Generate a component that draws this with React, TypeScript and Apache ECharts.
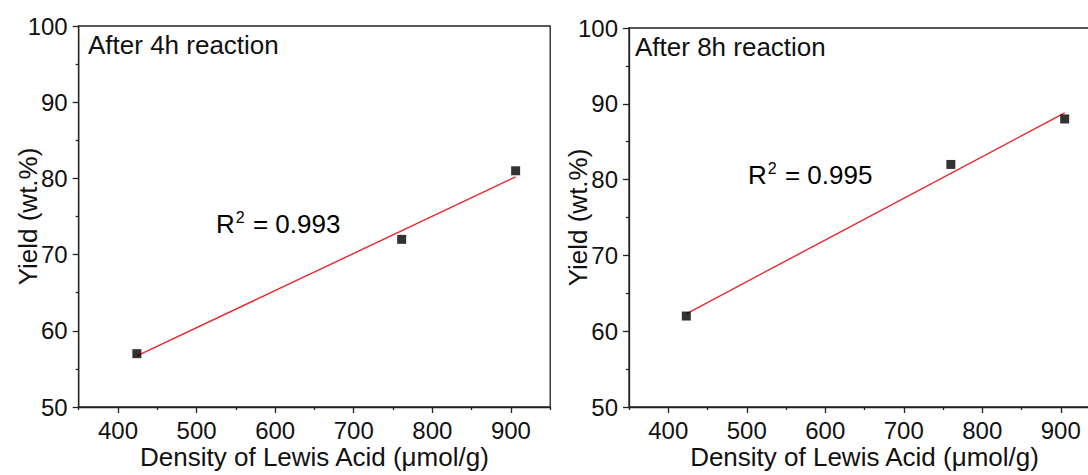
import React, { useEffect, useRef } from "react";
import * as echarts from "echarts";

// ---- data ----
const panelTitles = ["After 4h reaction", "After 8h reaction"];
const r2Labels = ["0.993", "0.995"];
const points4h: [number, number][] = [
  [424, 57],
  [761, 72],
  [906, 81],
];
const points8h: [number, number][] = [
  [423, 62],
  [760, 82],
  [905, 88],
];
const fit4h: [number, number][] = [
  [424, 56.7],
  [906, 80.2],
];
const fit8h: [number, number][] = [
  [423, 62.3],
  [905, 88.8],
];
const xMajorTicks = [400, 500, 600, 700, 800, 900];
const xMinorTicks = [350, 450, 550, 650, 750, 850, 950];
const xRange = [350, 950];
const yRange = [50, 100];
const yInterval = 10;
const xTitle = "Density of Lewis Acid (μmol/g)";
const yTitle = "Yield (wt.%)";

const FONT = "Liberation Sans, Arial, sans-serif";
const INK = "#111";
const AXIS = "#222";
const RED = "#e8262a";
const TICK_FS = 24;
const TITLE_FS = 26;

export default function App() {
  const ref = useRef<HTMLDivElement>(null);
  useEffect(() => {
    if (!ref.current) return;
    const chart = echarts.init(ref.current, undefined, { renderer: "svg" });
    const grids = [
      { left: 78.7, top: 26, width: 471.5, height: 381 },
      { left: 629, top: 28, width: 471, height: 379 },
    ];
    const xAxes: any[] = [];
    const yAxes: any[] = [];
    grids.forEach((_, i) => {
      xAxes.push({
        type: "value",
        gridIndex: i,
        min: xRange[0],
        max: xRange[1],
        position: "bottom",
        name: xTitle,
        nameLocation: "middle",
        nameGap: 37,
        nameMoveOverlap: false,
        nameTextStyle: { fontFamily: FONT, fontSize: TITLE_FS, color: INK },
        axisLine: { show: true, lineStyle: { color: AXIS, width: 1.3 } },
        axisTick: {
          show: true,
          length: 6,
          customValues: xMajorTicks,
          lineStyle: { color: AXIS, width: 1.3 },
        },
        axisLabel: {
          customValues: xMajorTicks,
          fontFamily: FONT,
          fontSize: TICK_FS,
          color: INK,
          margin: 11,
        },
        splitLine: { show: false },
      });
      xAxes.push({
        type: "value",
        gridIndex: i,
        min: xRange[0],
        max: xRange[1],
        position: "bottom",
        axisLine: { show: false },
        axisTick: {
          show: true,
          length: 3,
          customValues: xMinorTicks,
          lineStyle: { color: AXIS, width: 1.3 },
        },
        axisLabel: { show: false },
        splitLine: { show: false },
      });
      yAxes.push({
        type: "value",
        gridIndex: i,
        min: yRange[0],
        max: yRange[1],
        interval: yInterval,
        name: yTitle,
        nameLocation: "middle",
        nameRotate: 90,
        nameGap: 38,
        nameMoveOverlap: false,
        nameTextStyle: { fontFamily: FONT, fontSize: TITLE_FS, color: INK },
        axisLine: { show: true, lineStyle: { color: AXIS, width: 1.3 } },
        axisTick: { show: true, length: 6, lineStyle: { color: AXIS, width: 1.3 } },
        minorTick: { show: true, splitNumber: 2, length: 3, lineStyle: { color: AXIS, width: 1.3 } },
        axisLabel: { fontFamily: FONT, fontSize: TICK_FS, color: INK, margin: 11 },
        splitLine: { show: false },
        minorSplitLine: { show: false },
      });
    });

    const pts = [points4h, points8h];
    const fits = [fit4h, fit8h];
    const series: any[] = [];
    [0, 1].forEach((i) => {
      series.push({
        type: "line",
        xAxisIndex: i * 2,
        yAxisIndex: i,
        data: fits[i],
        symbol: "none",
        lineStyle: { color: RED, width: 1.4 },
        z: 2,
      });
      series.push({
        type: "scatter",
        xAxisIndex: i * 2,
        yAxisIndex: i,
        data: pts[i],
        symbol: "rect",
        symbolSize: 9,
        itemStyle: { color: "#000" },
        z: 3,
      });
    });

    const rich = {
      r: { fontFamily: FONT, fontSize: TITLE_FS, color: INK, lineHeight: 30 },
      s: { fontFamily: FONT, fontSize: 16, color: INK, verticalAlign: "top", lineHeight: 30, padding: [0, 1, 12, 1] },
    };

    chart.setOption({
      animation: false,
      backgroundColor: "#fff",
      grid: grids.map((g) => ({
        ...g,
        show: true,
        borderColor: AXIS,
        borderWidth: 1.3,
        backgroundColor: "transparent",
      })),
      xAxis: xAxes,
      yAxis: yAxes,
      series,
      graphic: [
        {
          type: "text",
          left: 88,
          top: 32,
          style: { text: panelTitles[0], fontFamily: FONT, fontSize: TITLE_FS, fill: INK },
        },
        {
          type: "text",
          left: 635,
          top: 34,
          style: { text: panelTitles[1], fontFamily: FONT, fontSize: TITLE_FS, fill: INK },
        },
        {
          type: "text",
          left: 216,
          top: 209,
          style: { text: `{r|R}{s|2}{r| = ${r2Labels[0]}}`, rich } as any,
        },
        {
          type: "text",
          left: 748,
          top: 160,
          style: { text: `{r|R}{s|2}{r| = ${r2Labels[1]}}`, rich } as any,
        },
      ],
    });
    return () => chart.dispose();
  }, []);
  return (
    <div
      style={{
        position: "fixed",
        left: 0,
        top: 0,
        width: 1088,
        height: 475,
        overflow: "hidden",
        background: "#fff",
      }}
    >
      <div ref={ref} style={{ width: 1110, height: 475 }} />
    </div>
  );
}
